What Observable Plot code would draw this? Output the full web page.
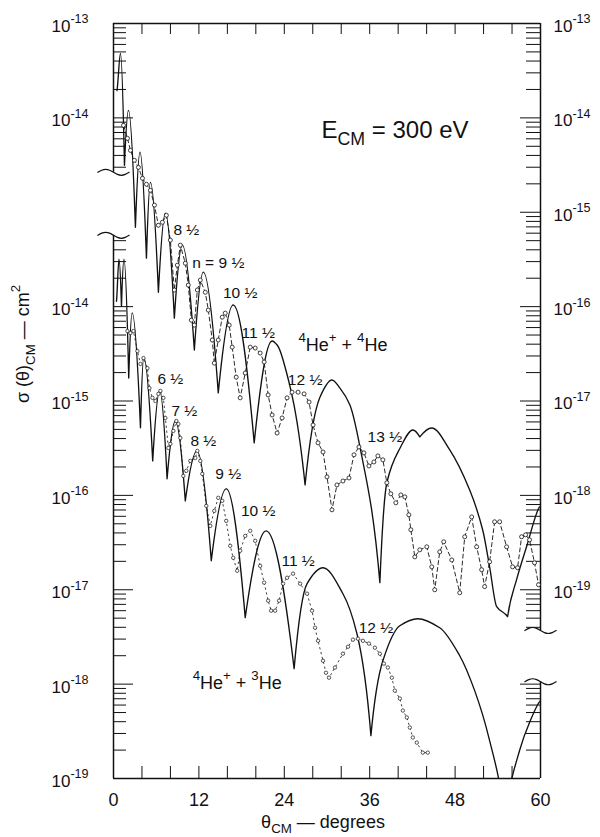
<!DOCTYPE html>
<html><head><meta charset="utf-8">
<script src="https://cdn.jsdelivr.net/npm/d3@7"></script>
<script src="https://cdn.jsdelivr.net/npm/@observablehq/plot@0.6"></script>
<style>body{margin:0;background:#fff} svg{display:block}</style>
</head><body><div id="chart"></div>
<script>
// ---- data: [theta_CM (deg), sigma (cm^2)] ----
// 4He+ + 4He, read on the right-hand scale
const upperTheory = [[0.49,1.95e-14],[0.98,4.82e-14],[1.54,3.14e-15],[2.10,1.20e-14],[3.08,6.93e-16],[3.72,4.32e-15],[4.63,3.26e-16],[5.19,2.07e-15],[6.31,1.42e-16],[7.29,9.75e-16],[8.55,7.55e-17],[9.67,4.48e-16],[11.36,3.47e-17],[12.62,2.32e-16],[14.72,1.22e-17],[16.82,1.04e-16],[19.77,3.60e-18],[22.29,4.32e-17],[22.99,3.92e-17],[23.83,2.72e-17],[26.92,1.29e-18],[29.02,1.10e-17],[30.70,1.67e-17],[31.82,1.37e-17],[33.22,9.08e-18],[34.63,3.26e-18],[37.43,1.19e-19],[38.41,1.36e-18],[40.20,3.10e-18],[42.06,4.93e-18],[43.04,4.16e-18],[44.72,5.18e-18],[47.25,3.03e-18],[50.05,1.14e-18],[51.87,4.32e-19],[52.85,1.75e-19],[53.84,6.61e-20],[55.38,5.18e-20],[56.64,1.28e-19],[58.04,2.85e-19],[59.86,7.55e-19]];
const upperData = [[1.40,8.34e-15],[1.96,6.07e-15],[2.38,4.53e-15],[2.94,3.55e-15],[3.50,2.99e-15],[4.07,2.29e-15],[4.63,1.98e-15],[5.19,1.71e-15],[5.75,1.19e-15],[6.31,7.28e-16],[6.87,7.83e-16],[7.43,9.29e-16],[7.99,5.06e-16],[8.55,1.50e-16],[8.97,2.75e-16],[9.39,4.48e-16],[10.09,2.88e-16],[10.51,1.69e-16],[10.94,7.19e-17],[11.36,6.37e-17],[11.78,1.50e-16],[12.20,1.91e-16],[12.90,1.42e-16],[13.32,9.18e-17],[13.88,4.43e-17],[14.16,2.52e-17],[14.72,4.43e-17],[15.28,7.74e-17],[15.70,8.53e-17],[16.26,6.37e-17],[16.68,3.72e-17],[17.24,1.79e-17],[17.80,1.08e-17],[18.51,1.98e-17],[19.21,3.72e-17],[19.91,3.64e-17],[20.61,3.22e-17],[21.17,2.59e-17],[21.73,1.16e-17],[22.29,7.11e-18],[22.99,4.58e-18],[23.69,6.61e-18],[24.39,1.08e-17],[25.09,1.24e-17],[25.94,1.24e-17],[26.78,1.19e-17],[27.48,9.75e-18],[28.04,5.57e-18],[28.74,3.60e-18],[29.44,2.88e-18],[30.00,1.57e-18],[30.70,7.03e-19],[31.40,1.29e-18],[32.24,1.42e-18],[33.09,1.53e-18],[33.79,2.69e-18],[34.49,3.26e-18],[35.19,2.82e-18],[35.89,2.05e-18],[36.59,2.26e-18],[37.15,2.62e-18],[37.85,2.38e-18],[38.41,1.36e-18],[38.97,1.04e-18],[39.67,8.34e-19],[40.38,1.01e-18],[40.94,9.64e-19],[41.50,6.22e-19],[41.78,4.32e-19],[42.34,2.23e-19],[43.04,2.65e-19],[44.02,2.85e-19],[44.72,1.75e-19],[45.14,1.00e-19],[45.84,2.52e-19],[46.40,3.22e-19],[47.53,2.07e-19],[48.65,9.29e-20],[49.35,3.64e-19],[50.33,5.91e-19],[51.03,2.85e-19],[51.73,1.63e-19],[52.15,1.08e-19],[52.85,1.98e-19],[53.55,5.25e-19],[54.26,5.25e-19],[55.24,2.85e-19],[56.08,1.75e-19],[56.78,1.71e-19],[57.34,3.64e-19],[57.90,3.82e-19],[58.46,3.38e-19],[59.16,1.93e-19],[59.72,1.13e-19]];
// 4He+ + 3He, read on the lower left-hand scale
const lowerTheory = [[0.42,1.14e-14],[0.77,3.18e-14],[1.12,1.01e-14],[1.47,3.18e-14],[2.14,1.75e-15],[2.62,8.59e-15],[3.79,5.21e-16],[4.25,2.87e-15],[5.51,2.32e-16],[6.49,1.28e-15],[7.53,1.50e-16],[8.69,6.14e-16],[10.09,8.75e-17],[11.73,2.96e-16],[13.74,2.03e-17],[15.84,1.17e-16],[18.51,5.06e-18],[21.45,4.21e-17],[25.38,1.46e-18],[27.20,1.16e-17],[29.44,1.71e-17],[32.24,9.08e-18],[34.21,3.42e-18],[36.17,2.85e-19],[37.85,1.77e-18],[40.23,4.16e-18],[42.76,4.93e-18],[45.84,3.96e-18],[48.65,2.00e-18],[50.75,8.53e-19],[52.85,2.52e-19],[54.96,3.60e-20],[57.06,1.98e-19],[58.46,3.92e-19],[60.0,6.68e-19]];
const lowerData = [[1.96,5.51e-15],[2.38,5.25e-15],[2.80,5.51e-15],[3.36,3.38e-15],[3.79,2.47e-15],[4.21,2.85e-15],[4.77,2.23e-15],[5.05,1.37e-15],[5.47,1.08e-15],[5.89,1.00e-15],[6.31,1.19e-15],[6.59,1.28e-15],[7.01,1.08e-15],[7.29,6.61e-16],[7.71,3.18e-16],[7.99,3.51e-16],[8.41,4.82e-16],[8.83,6.14e-16],[9.11,5.71e-16],[9.39,4.06e-16],[9.81,1.61e-16],[10.23,1.82e-16],[10.79,2.32e-16],[11.50,2.49e-16],[11.78,2.96e-16],[12.20,2.32e-16],[12.48,1.69e-16],[13.04,7.74e-17],[13.60,4.75e-17],[14.16,6.85e-17],[14.72,9.42e-17],[15.28,8.75e-17],[15.84,5.37e-17],[16.40,2.92e-17],[16.82,2.18e-17],[17.38,1.59e-17],[17.80,2.59e-17],[18.51,3.72e-17],[19.21,4.21e-17],[19.91,3.30e-17],[20.61,1.79e-17],[21.17,1.19e-17],[21.73,7.66e-18],[22.15,6.00e-18],[22.71,6.00e-18],[23.27,7.66e-18],[23.83,1.16e-17],[24.39,1.34e-17],[25.23,1.48e-17],[26.22,1.16e-17],[27.20,9.08e-18],[27.90,6.00e-18],[28.32,3.96e-18],[28.74,2.88e-18],[29.44,1.77e-18],[29.86,1.32e-18],[30.28,1.17e-18],[31.12,1.50e-18],[32.24,2.10e-18],[32.95,2.49e-18],[33.65,2.96e-18],[34.35,3.03e-18],[35.05,2.88e-18],[35.89,2.69e-18],[36.73,2.43e-18],[37.43,2.10e-18],[37.99,1.65e-18],[38.55,1.50e-18],[39.11,1.17e-18],[39.53,8.53e-19],[40.24,7.03e-19],[40.66,5.25e-19],[41.22,4.43e-19],[41.64,3.47e-19],[42.06,2.72e-19],[42.62,2.40e-19],[43.46,1.88e-19],[44.16,1.88e-19]];

// ---- axes / labels ----
const xTickLabels = [0, 12, 24, 36, 48, 60];
const xMinorTicks = [4, 8, 12, 16, 20, 24, 28, 32, 36, 40, 44, 48, 52, 56];
const rightExponents = [-13, -14, -15, -16, -17, -18, -19];
const leftUpperExponents = [-13, -14];
const leftLowerExponents = [-14, -15, -16, -17, -18, -19];
const lowerOffset = 100; // lower left scale sits two decades above the right scale
const upperLabels = [
  {x: 10.23, y: 6.46e-16, text: "8 ½"},
  {x: 14.72, y: 2.88e-16, text: "n = 9 ½"},
  {x: 17.80, y: 1.39e-16, text: "10 ½"},
  {x: 20.33, y: 5.25e-17, text: "11 ½"},
  {x: 26.92, y: 1.67e-17, text: "12 ½"},
  {x: 38.13, y: 4.16e-18, text: "13 ½"}
];
const lowerLabels = [
  {x: 7.99, y: 1.71e-15, text: "6 ½"},
  {x: 9.95, y: 7.83e-16, text: "7 ½"},
  {x: 12.62, y: 3.78e-16, text: "8 ½"},
  {x: 16.12, y: 1.69e-16, text: "9 ½"},
  {x: 20.33, y: 6.85e-17, text: "10 ½"},
  {x: 25.94, y: 2.03e-17, text: "11 ½"},
  {x: 36.87, y: 3.96e-18, text: "12 ½"}
];
const systemLabels = [
  {x: 32.24, y: 3.92e-17, text: "^{4}He^{+} + ^{4}He"},
  {x: 17.38, y: 1.01e-18 / lowerOffset, text: "^{4}He^{+} + ^{3}He"}
];
const titleText = "E_{CM} = 300 eV";
const xTitle = "θ_{CM} — degrees";
const yTitle = "σ (θ)_{CM} — cm^{2}";
// axis segments (right-scale units) between the scale breaks
const leftUpperSpan = [2.65e-15, 1e-13];
const leftLowerSpan = [1e-21, 5.7e-16];
const rightUpperSpan = [3.7e-20, 1e-13];
const rightLowerSpan = [1e-21, 1.06e-20];

// ---- layout ----
const W = 600, H = 837, mL = 113, mR = 60, mT = 23, mB = 59;
const pxPerDeg = (W - mL - mR) / 60;
const pxPerDec = (H - mT - mB) / 8;
const FONT = "Liberation Sans";

function minorTicks(lo, hi) {
  const out = [];
  for (let e = -22; e <= -12; e++) for (let m = 1; m <= 9; m++) {
    const v = m * 10 ** e;
    if (v >= lo * 0.999 && v <= hi * 1.001) out.push({v, major: m === 1});
  }
  return out;
}
const leftTicks = [...minorTicks(...leftUpperSpan), ...minorTicks(...leftLowerSpan)];
const rightTicks = [...minorTicks(...rightUpperSpan), ...minorTicks(...rightLowerSpan)];
const tl = (major, px) => (major ? 20 : px) / pxPerDeg;

function squiggle(side, y) {
  const pts = [];
  for (let i = -4; i <= 4; i++) {
    const dpx = 3 * Math.sin(Math.PI * i / 4);
    pts.push([side + i * 0.55, y * 10 ** (-dpx / pxPerDec)]);
  }
  return pts;
}
const breaks = [[0, leftUpperSpan[0]], [0, leftLowerSpan[1]], [60, rightUpperSpan[0]], [60, rightLowerSpan[1]]];

// curve: rounded maxima, sharp cusp-like minima (as drawn in the original)
function cuspCurve(context) {
  let xs = [], ys = [];
  return {
    areaStart() {}, areaEnd() {},
    lineStart() { xs = []; ys = []; },
    point(x, y) { xs.push(+x); ys.push(+y); },
    lineEnd() {
      const n = xs.length;
      if (!n) return;
      context.moveTo(xs[0], ys[0]);
      if (n === 1) return;
      const s = [];
      for (let i = 0; i < n - 1; i++) s.push((ys[i + 1] - ys[i]) / ((xs[i + 1] - xs[i]) || 1e-9));
      const mIn = new Array(n), mOut = new Array(n);
      for (let i = 0; i < n; i++) {
        if (i === 0) { mIn[i] = mOut[i] = s[0] * 0.5; continue; }
        if (i === n - 1) { mIn[i] = mOut[i] = s[n - 2] * 0.5; continue; }
        const a = s[i - 1], b = s[i];
        if (a > 0 && b < 0) { mIn[i] = a * 1.7; mOut[i] = b * 1.7; }
        else if (a * b <= 0) { mIn[i] = mOut[i] = 0; }
        else { mIn[i] = mOut[i] = 2 * a * b / (a + b); }
      }
      for (let i = 0; i < n - 1; i++) {
        const d = (xs[i + 1] - xs[i]) / 3;
        context.bezierCurveTo(xs[i] + d, ys[i] + mOut[i] * d, xs[i + 1] - d, ys[i + 1] - mIn[i + 1] * d, xs[i + 1], ys[i + 1]);
      }
    }
  };
}

const ink = "#111";
const marks = [
  Plot.ruleY([1e-13], {x1: 0, x2: 60, stroke: ink, strokeWidth: 1.5}),
  Plot.ruleY([1e-21], {x1: 0, x2: 60, stroke: ink, strokeWidth: 1.5}),
  Plot.ruleX([leftUpperSpan, leftLowerSpan], {x: () => 0, y1: d => d[0], y2: d => d[1], stroke: ink, strokeWidth: 1.5}),
  Plot.ruleX([rightUpperSpan, rightLowerSpan], {x: () => 60, y1: d => d[0], y2: d => d[1], stroke: ink, strokeWidth: 1.5}),
  ...breaks.map(([s, y]) => Plot.line(squiggle(s, y), {x: d => d[0], y: d => d[1], curve: "natural", stroke: ink, strokeWidth: 1.2})),
  Plot.ruleY(leftTicks, {y: d => d.v, x1: 0, x2: d => tl(d.major, 13), stroke: ink, strokeWidth: 1}),
  Plot.ruleY(rightTicks, {y: d => d.v, x1: d => 60 - tl(d.major, 14), x2: 60, stroke: ink, strokeWidth: 1}),
  Plot.ruleX(xMinorTicks, {x: d => d, y1: 1e-13, y2: 1e-13 * 10 ** (-11 / pxPerDec), stroke: ink, strokeWidth: 1}),
  Plot.ruleX(xMinorTicks, {x: d => d, y1: 1e-21, y2: 1e-21 * 10 ** (12 / pxPerDec), stroke: ink, strokeWidth: 1}),
  Plot.text(xTickLabels, {x: d => d, y: 1e-21, dy: 22, text: d => String(d), fontSize: 18, fontFamily: FONT, fill: ink}),
  Plot.text(leftUpperExponents, {x: 0, y: e => 10 ** e, text: e => `10^{${e}}`, textAnchor: "start", dx: -62, dy: 3, fontSize: 17, fontFamily: FONT, fill: ink}),
  Plot.text(leftLowerExponents, {x: 0, y: e => 10 ** e / lowerOffset, text: e => `10^{${e}}`, textAnchor: "start", dx: -62, dy: 3, fontSize: 17, fontFamily: FONT, fill: ink}),
  Plot.text(rightExponents, {x: 60, y: e => 10 ** e, text: e => `10^{${e}}`, textAnchor: "start", dx: 13, dy: 3, fontSize: 17, fontFamily: FONT, fill: ink}),
  Plot.line(upperTheory, {x: d => d[0], y: d => d[1], curve: cuspCurve, stroke: ink, strokeWidth: 1.35, clip: true}),
  Plot.line(upperData, {x: d => d[0], y: d => d[1], stroke: ink, strokeWidth: 0.9, strokeDasharray: "4,3", clip: true}),
  Plot.dot(upperData, {x: d => d[0], y: d => d[1], r: 2, stroke: ink, fill: "white", strokeWidth: 0.8}),
  Plot.line(lowerTheory, {x: d => d[0], y: d => d[1] / lowerOffset, curve: cuspCurve, stroke: ink, strokeWidth: 1.35, clip: true}),
  Plot.line(lowerData, {x: d => d[0], y: d => d[1] / lowerOffset, stroke: ink, strokeWidth: 0.8, strokeDasharray: "1.5,3.5", clip: true}),
  Plot.dot(lowerData, {x: d => d[0], y: d => d[1] / lowerOffset, r: 1.7, stroke: ink, fill: "white", strokeWidth: 0.7}),
  Plot.text(upperLabels, {x: "x", y: "y", text: "text", fontSize: 15.5, fontFamily: FONT, fill: ink}),
  Plot.text(lowerLabels, {x: "x", y: d => d.y / lowerOffset, text: "text", fontSize: 15.5, fontFamily: FONT, fill: ink}),
  Plot.text(systemLabels, {x: "x", y: "y", text: "text", fontSize: 18, fontFamily: FONT, fill: ink}),
  Plot.text([titleText], {frameAnchor: "top-right", textAnchor: "end", dx: -72, dy: 97, text: d => d, fontSize: 24, fontFamily: FONT, fill: ink}),
  Plot.text([xTitle], {frameAnchor: "bottom", dy: 49, dx: -4, text: d => d, fontSize: 18, fontFamily: FONT, fill: ink}),
  Plot.text([yTitle], {frameAnchor: "left", dx: -90, dy: 2, rotate: -90, text: d => d, fontSize: 18, fontFamily: FONT, fill: ink})
];

const svg = Plot.plot({
  width: W, height: H,
  marginLeft: mL, marginRight: mR, marginTop: mT, marginBottom: mB,
  x: {domain: [0, 60], axis: null},
  y: {type: "log", domain: [1e-21, 1e-13], axis: null},
  style: {fontFamily: FONT, background: "white"},
  marks
});
document.getElementById("chart").append(svg);

function richify(el) {
  const s = el.textContent;
  if (!/[\^_]\{/.test(s)) return;
  const fs = parseFloat(getComputedStyle(el).fontSize) || 16;
  el.textContent = "";
  const re = /([\^_])\{([^}]*)\}|([^\^_]+)/g;
  let m, cur = 0;
  while ((m = re.exec(s))) {
    const t = document.createElementNS("http://www.w3.org/2000/svg", "tspan");
    let target = 0, txt = m[3];
    if (m[1]) {
      txt = m[2];
      target = m[1] === "^" ? -0.5 * fs : 0.3 * fs;
      t.setAttribute("font-size", (0.74 * fs) + "px");
    }
    t.setAttribute("dy", target - cur);
    cur = target;
    t.textContent = txt;
    el.appendChild(t);
  }
}
svg.querySelectorAll("text").forEach(richify);
</script></body></html>
